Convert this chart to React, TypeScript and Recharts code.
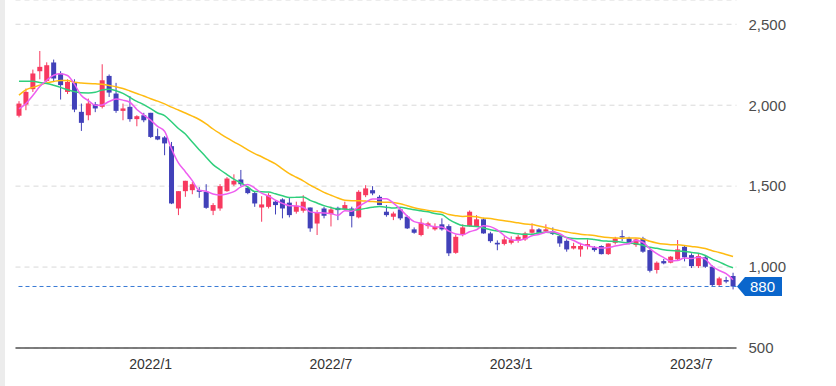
import React from 'react';
import { ComposedChart, Bar, Line, XAxis, YAxis, CartesianGrid, ReferenceLine } from 'recharts';

// Weekly candles, first week starting 2021-08-23
const firstWeek = [2021, 7, 23];

const opens = [
  1935, 2004, 2099, 2210, 2150, 2264, 2196, 2082, 2138, 1959,
  1938, 2006, 1990, 2181, 2072, 1965, 1990, 1914, 1938, 1953,
  1809, 1801, 1747, 1362, 1469, 1475, 1475, 1465, 1348, 1362,
  1469, 1510, 1541, 1490, 1457, 1368, 1372, 1404, 1418, 1398,
  1342, 1348, 1368, 1269, 1362, 1327, 1366, 1356, 1362, 1307,
  1444, 1475, 1434, 1342, 1311, 1356, 1311, 1233, 1198, 1253,
  1233, 1264, 1253, 1088, 1198, 1253, 1253, 1295, 1208, 1150,
  1143, 1150, 1162, 1171, 1212, 1233, 1220, 1220, 1191, 1162,
  1115, 1109, 1130, 1121, 1130, 1080, 1150, 1191, 1177, 1136,
  1177, 1105, 982, 1037, 1027, 1048, 1125, 1074, 1006, 1060,
  1002, 889, 920, 945,
];
const highs = [
  2025, 2103, 2220, 2335, 2265, 2282, 2210, 2160, 2160, 2010,
  2041, 2020, 2253, 2190, 2138, 2010, 2056, 1938, 1953, 1953,
  1856, 1809, 1773, 1469, 1533, 1525, 1494, 1512, 1395, 1512,
  1556, 1573, 1600, 1500, 1469, 1438, 1457, 1414, 1425, 1430,
  1404, 1444, 1368, 1352, 1373, 1373, 1373, 1404, 1373, 1475,
  1506, 1500, 1444, 1383, 1342, 1362, 1320, 1245, 1301, 1280,
  1270, 1301, 1264, 1200, 1264, 1350, 1321, 1301, 1218, 1165,
  1190, 1190, 1200, 1218, 1270, 1240, 1264, 1245, 1198, 1171,
  1150, 1150, 1171, 1130, 1134, 1146, 1187, 1228, 1187, 1177,
  1187, 1109, 1035, 1050, 1068, 1167, 1134, 1085, 1085, 1075,
  1010, 940, 940, 965,
];
const lows = [
  1925, 1969, 2082, 2160, 2143, 2144, 2035, 2069, 1957, 1841,
  1907, 1957, 1980, 2051, 1953, 1907, 1898, 1870, 1895, 1798,
  1784, 1691, 1389, 1321, 1434, 1450, 1428, 1360, 1321, 1348,
  1465, 1500, 1500, 1450, 1372, 1280, 1362, 1325, 1301, 1307,
  1330, 1336, 1218, 1198, 1301, 1251, 1290, 1350, 1245, 1301,
  1432, 1444, 1383, 1311, 1290, 1290, 1235, 1206, 1190, 1237,
  1225, 1225, 1068, 1082, 1190, 1249, 1249, 1206, 1150, 1104,
  1134, 1140, 1150, 1162, 1206, 1206, 1216, 1198, 1125, 1095,
  1109, 1064, 1109, 1095, 1078, 1075, 1140, 1160, 1140, 1125,
  1088, 967, 960, 1017, 1023, 1041, 1035, 994, 994, 995,
  880, 877, 900, 862,
];
const closes = [
  2010, 2082, 2196, 2237, 2247, 2165, 2124, 2144, 1973, 1891,
  2011, 1980, 2154, 2078, 1965, 1980, 1914, 1932, 1907, 1804,
  1788, 1764, 1393, 1469, 1533, 1512, 1465, 1366, 1383, 1500,
  1547, 1533, 1512, 1457, 1393, 1387, 1444, 1383, 1362, 1321,
  1379, 1404, 1239, 1335, 1317, 1356, 1352, 1383, 1315, 1465,
  1486, 1455, 1383, 1321, 1331, 1301, 1239, 1212, 1274, 1270,
  1249, 1233, 1085, 1187, 1245, 1342, 1295, 1208, 1160, 1140,
  1171, 1167, 1187, 1208, 1233, 1212, 1233, 1204, 1146, 1109,
  1130, 1130, 1142, 1105, 1080, 1146, 1177, 1183, 1142, 1171,
  1095, 977, 1027, 1023, 1064, 1109, 1060, 1006, 1068, 1002,
  889, 930, 910, 880,
];

const ma5Lead = [1978, 2010, 2060, 2115];
const ma13Lead = [2148, 2148, 2148, 2140, 2134, 2123, 2110, 2095, 2084, 2077, 2076, 2080];
const ma26Lead = [
  2062, 2095, 2110, 2124, 2138, 2147, 2153, 2152, 2142, 2137,
  2134, 2132, 2130, 2122, 2114, 2103, 2088, 2072, 2057, 2040,
  2025, 2008, 1988, 1970, 1952,
];

const yTicks = [500, 1000, 1500, 2000, 2500];
const xTickDates = ['2022-01-03', '2022-07-04', '2023-01-02', '2023-07-03'];
const xTickLabels = ['2022/1', '2022/7', '2023/1', '2023/7'];
const lastPrice = 880;

const UP = '#f7395f';
const DOWN = '#4141b9';
const MA5_COLOR = '#ee5ef0';
const MA13_COLOR = '#2fcf7c';
const MA26_COLOR = '#ffbb11';

const movingAvg = (period: number, lead: number[], i: number) => {
  if (i < lead.length) return lead[i];
  let s = 0;
  for (let k = i - period + 1; k <= i; k++) s += closes[k];
  return s / period;
};

const dates = opens.map((_, i) => {
  const t = Date.UTC(firstWeek[0], firstWeek[1], firstWeek[2]) + i * 7 * 86400000;
  return new Date(t).toISOString().slice(0, 10);
});

const data = opens.map((o, i) => ({
  date: dates[i],
  open: o,
  high: highs[i],
  low: lows[i],
  close: closes[i],
  range: [lows[i], highs[i]],
  ma5: movingAvg(5, ma5Lead, i),
  ma13: movingAvg(13, ma13Lead, i),
  ma26: movingAvg(26, ma26Lead, i),
}));

const Candle = (props: any) => {
  const { x, y, width, height, payload } = props;
  if (!payload || x == null || y == null) return null;
  const { open, close, high, low } = payload;
  const top = Math.min(y, y + height);
  const h = Math.abs(height);
  const ppu = high === low ? 0 : h / (high - low);
  const py = (v: number) => top + (high - v) * ppu;
  const cx = x + width / 2;
  const color = close >= open ? UP : DOWN;
  const bTop = py(Math.max(open, close));
  const bBot = py(Math.min(open, close));
  const bw = 5;
  return (
    <g>
      <line x1={cx} x2={cx} y1={top} y2={top + h} stroke={color} strokeWidth={1} />
      <rect x={cx - bw / 2} y={bTop} width={bw} height={Math.max(1, bBot - bTop)} fill={color} />
    </g>
  );
};

const PriceLabel = (props: any) => {
  const vb = props.viewBox || {};
  const xr = (vb.x ?? 0) + (vb.width ?? 0);
  const yc = vb.y ?? 0;
  const tip = xr + 0.5;
  const left = tip + 8;
  const right = tip + 45;
  const hh = 9.5;
  const d = `M${tip},${yc} L${left},${yc - hh} L${right},${yc - hh} L${right},${yc + hh} L${left},${yc + hh} Z`;
  return (
    <g>
      <path d={d} fill="#0a66cc" />
      <text
        x={(left + right) / 2 - 1}
        y={yc}
        dy="0.36em"
        textAnchor="middle"
        fill="#ffffff"
        fontSize={15}
        fontFamily="'Liberation Sans', Arial, sans-serif"
      >
        {String(lastPrice)}
      </text>
    </g>
  );
};

export default function App() {
  return (
    <div style={{ position: 'absolute', left: 0, top: 0, width: 836, height: 386, background: '#ffffff' }}>
      <div style={{ position: 'absolute', left: 0, top: 0, width: 5, height: 386, background: '#ececec' }} />
      <ComposedChart
        width={836}
        height={386}
        data={data}
        margin={{ top: 0, right: 0, bottom: 0, left: 15.5 }}
        barCategoryGap={0}
        style={{ fontFamily: "'Liberation Sans', Arial, sans-serif" }}
      >
        <CartesianGrid vertical={false} stroke="#d9d9d9" strokeDasharray="5 4" />
        <XAxis
          dataKey="date"
          ticks={xTickDates}
          interval={0}
          tickFormatter={(v: string) => xTickLabels[xTickDates.indexOf(v)] ?? ''}
          axisLine={{ stroke: '#555555', strokeWidth: 1.5 }}
          tickLine={false}
          tickSize={6}
          tickMargin={5}
          height={38}
          tick={{ fontSize: 14, fill: '#333333', fontFamily: "'Liberation Sans', Arial, sans-serif" }}
        />
        <YAxis
          orientation="right"
          domain={[500, 2650]}
          ticks={yTicks}
          width={99.5}
          axisLine={false}
          tickLine={false}
          tickSize={6}
          tickMargin={6}
          tickFormatter={(v: number) => v.toLocaleString('en-US')}
          tick={{ fontSize: 15, fill: '#4d4d4d', fontFamily: "'Liberation Sans', Arial, sans-serif" }}
        />
        <Bar dataKey="range" shape={(p: any) => <Candle {...p} />} isAnimationActive={false} />
        <Line type="monotone" dataKey="ma26" stroke={MA26_COLOR} strokeWidth={1.5} dot={false} isAnimationActive={false} />
        <Line type="monotone" dataKey="ma13" stroke={MA13_COLOR} strokeWidth={1.5} dot={false} isAnimationActive={false} />
        <Line type="monotone" dataKey="ma5" stroke={MA5_COLOR} strokeWidth={1.5} dot={false} isAnimationActive={false} />
        <ReferenceLine
          y={lastPrice}
          stroke="#3a7bd5"
          strokeDasharray="4 3"
          label={(p: any) => <PriceLabel {...p} />}
        />
      </ComposedChart>
    </div>
  );
}
